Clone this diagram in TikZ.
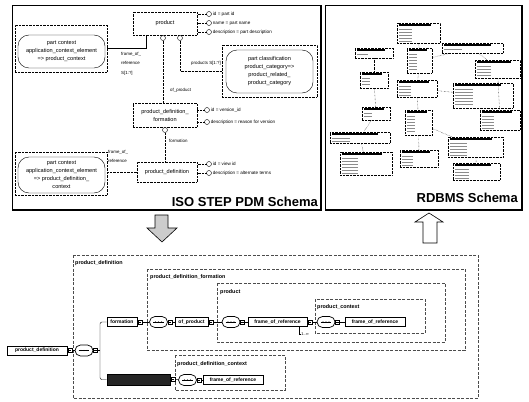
\documentclass[tikz,border=0pt]{standalone}
\usepackage{fontspec}
\setmainfont{Liberation Sans}
\usetikzlibrary{shapes,arrows,positioning,calc,fit}

\tikzset{
  entity/.style={draw,densely dotted,align=center,inner sep=1pt,font=\fontsize{5.6}{8}\selectfont},
  ctxframe/.style={draw,densely dotted},
  ctx/.style={draw,rounded corners=11pt,align=center,inner sep=1pt,font=\fontsize{5.6}{8}\selectfont},
  lolli/.style={circle,draw,fill=white,inner sep=0pt,minimum size=5pt},
  attr/.style={anchor=west,inner sep=1pt,font=\fontsize{4.6}{5}\selectfont},
  role/.style={inner sep=0pt,align=left,font=\fontsize{4.4}{9.5}\selectfont},
  rel/.style={densely dotted},
  panel/.style={line width=0.9pt},
  paneltitle/.style={font=\fontsize{13}{13}\selectfont\bfseries,inner sep=0pt},
  tbl/.style={draw,densely dotted,inner sep=0pt,fill=white},
  grp/.style={draw=black!70,dash pattern=on 3pt off 1.5pt},
  grplabel/.style={anchor=west,inner sep=0pt,font=\fontsize{5.4}{5.4}\selectfont\bfseries},
  elem/.style={draw,line width=1pt,fill=white,minimum height=9pt,inner sep=1pt,font=\fontsize{5}{5}\selectfont\bfseries},
  expd/.style={draw,line width=0.5pt,fill=white,minimum size=4pt,inner sep=0pt,
    path picture={\draw[line width=0.4pt] ($(path picture bounding box.west)+(0.8pt,0)$) -- ($(path picture bounding box.east)+(-0.8pt,0)$);}},
  seqbox/.style={draw,line width=0.7pt,fill=white,rounded rectangle,minimum width=18pt,minimum height=11pt,inner sep=0pt},
}

\newcommand{\seqmark}[1]{%
  \draw[line width=0.5pt] ($(#1.west)+(4,0)$) -- ($(#1.east)+(-4,0)$);
  \foreach \dx in {-3,0,3} \fill ($(#1.center)+(\dx,0)$) circle (0.7pt);}

\begin{document}
\begin{tikzpicture}[x=1pt,y=-1pt]
\useasboundingbox (0,0) rectangle (529,401);

% ISO STEP PDM schema panel
\draw[panel] (12,5) rectangle (321,210);
\draw[line width=1.8pt] (12,210) -- (321,210) -- (321,5);

\node[entity,minimum width=64pt,minimum height=23pt] (prod) at (165,23.5) {product};
\node[entity,minimum width=64pt,minimum height=24pt] (pdf) at (165,115) {product\_definition\_\\formation};
\node[entity,minimum width=60pt,minimum height=20pt] (pd) at (167,172) {product\_definition};

\node[ctxframe,minimum width=92pt,minimum height=47pt] (ctxa) at (61,48.5) {};
\node[ctx,minimum width=87pt,minimum height=33pt] (ctxa in) at (61.5,51.5) {part context\\application\_context\_element\\=> product\_context};
\node[ctxframe,minimum width=92pt,minimum height=43pt] (ctxb) at (61,173.5) {};
\node[ctx,minimum width=87pt,minimum height=36pt] (ctxb in) at (61.5,175) {part context\\application\_context\_element\\=> product\_definition\_\\context};
\node[ctxframe,minimum width=95pt,minimum height=52pt] (ctxc) at (269.5,71) {};
\node[ctx,minimum width=87pt,minimum height=43pt] (ctxc in) at (269.5,71.5) {part classification\\product\_category=>\\product\_related\_\\product\_category};

\draw ($(prod.south west)+(13,0)$) |- (ctxa.east);
\node[role,anchor=north west] at (121,52) {frame\_of\_\\reference\\S[1:?]};

\node[lolli] (c1) at (163,38) {};
\node[lolli] (c2) at (180,38) {};
\draw[rel] (c1) -- (c1 |- pdf.north);
\node[role,anchor=west] at (170,90) {of\_product};
\draw[rel] (c2) |- (ctxc.west);
\node[role,anchor=east] at (221,63) {products S[1:?]};

\node[lolli] (c3) at (165,130) {};
\draw[rel] (c3) -- (c3 |- pd.north);
\node[role,anchor=west] at (169,141) {formation};

\draw[rel] (pd.west) -- (pd.west -| ctxb.east);
\node[role,anchor=north west] at (108,150) {frame\_of\_\\reference};

\foreach \y/\t [count=\i] in {14/id = part id,23/name = part name,32/description = part description} {
  \node[lolli] (pa\i) at (209,\y) {};
  \draw[rel] (pa\i) -- (pa\i -| prod.east);
  \node[attr] at (pa\i.east) {\t};
}
\foreach \y/\t [count=\i] in {110/id = version\_id,122/description = reason for version} {
  \node[lolli] (va\i) at (207,\y) {};
  \draw[rel] (va\i) -- (va\i -| pdf.east);
  \node[attr] at (va\i.east) {\t};
}
\foreach \y/\t [count=\i] in {164/id = view id,173/description = alternate terms} {
  \node[lolli] (da\i) at (209,\y) {};
  \draw[rel] (da\i) -- (da\i -| pd.east);
  \node[attr] at (da\i.east) {\t};
}

\node[paneltitle,anchor=east] (iso) at (318,202) {ISO STEP PDM Schema};

% RDBMS schema panel
\draw[panel] (325,5) rectangle (522,210);
\draw[line width=1.8pt] (325,210) -- (522,210) -- (522,5);

\foreach \a/\b/\c/\d [count=\i] in {397/23/440/43, 442/43/503/53, 355/48/393/58, 407/48/432/73,
    475/60/520/78, 360/72/388/88, 397/80/437/97, 453/83/513/108, 480/110/520/130,
    362/107/390/120, 405/110/432/135, 330/132/390/143, 340/152/392/175, 400/150/438/167,
    448/137/503/157, 453/163/500/180} {
  \node[tbl,minimum width={(\c-\a)*1pt},minimum height={(\d-\b)*1pt}] (t\i) at ({(\a+\c)/2},{(\b+\d)/2}) {};
  \fill ({\a+1.5},{\b+1.4}) rectangle ({\a+(\c-\a)*0.8},{\b+2.6});
  \pgfmathtruncatemacro\nf{max(1,(\d-\b-5)/3)}
  \foreach \k in {1,...,\nf} \draw[black!45,line width=0.3pt] ({\a+2},{\b+3+\k*3}) -- ++({(\c-\a)*0.3},0);
}
\foreach \p/\q in {1/4,4/2,3/6,4/7,7/8,2/5,5/9,8/9,6/10,10/12,12/13,7/11,11/14,11/15,15/16}
  \draw[rel] (t\p) -- (t\q);

\node[paneltitle,anchor=east] (rdb) at (518,197.5) {RDBMS Schema};

% block arrows
\draw[fill=black!20,line width=0.6pt] (155,215) -- (168,215) -- (168,228) -- (177,228) -- (162,242) -- (147,228) -- (155,228) -- cycle;
\draw[fill=white,line width=0.6pt] (423,243) -- (437,243) -- (437,222) -- (443,222) -- (429,213) -- (415,222) -- (423,222) -- cycle;

% XML schema view
\draw[grp] (73,255) rectangle (478,398);
\node[grplabel] at (75,263) {product\_definition};
\draw[grp] (147,269) rectangle (465,350);
\node[grplabel] at (150,277) {product\_definition\_formation};
\draw[grp] (217,283) rectangle (445,342);
\node[grplabel] at (220,292) {product};
\draw[grp] (315,299) rectangle (425,333);
\node[grplabel] at (317,307) {product\_context};
\draw[grp] (175,355) rectangle (285,390);
\node[grplabel] at (177,364) {product\_definition\_context};

\node[elem,minimum width=60pt] (root) at (37,350.5) {product\_definition};
\node[expd,right=0pt of root] (root x) {};
\node[seqbox] (s0) at (84,350.5) {};
\seqmark{s0}
\node[expd,right=0pt of s0] (s0 x) {};
\coordinate (br) at (100,350.5);
\draw (root x) -- (s0);
\draw (s0 x) -- (br);

\node[elem,minimum width=30pt] (form) at (122,322) {formation};
\node[elem,fill=black!85,minimum width=63pt,minimum height=11pt] (ctxel) at (138.5,379.5) {};
\draw[rounded corners=2pt] (form.west) -| (br) |- (ctxel.west);

\node[expd,right=0pt of form] (form x) {};
\node[seqbox] (s1) at (158.5,322) {};
\seqmark{s1}
\node[expd,right=0pt of s1] (s1 x) {};
\node[elem,minimum width=33pt] (ofp) at (191.5,322) {of\_product};
\node[expd,right=0pt of ofp] (ofp x) {};
\node[seqbox] (s2) at (231,322) {};
\seqmark{s2}
\node[expd,right=0pt of s2] (s2 x) {};
\node[elem,minimum width=59pt] (for1) at (277.5,322) {frame\_of\_reference};
\node[expd,right=0pt of for1] (for1 x) {};
\node[seqbox] (s3) at (326,322) {};
\seqmark{s3}
\node[expd,right=0pt of s3] (s3 x) {};
\node[elem,minimum width=60pt] (for2) at (375,322) {frame\_of\_reference};
\draw (form x) -- (s1);
\draw (s1 x) -- (ofp);
\draw (ofp x) -- (s2);
\draw (s2 x) -- (for1);
\draw (for1 x) -- (s3);
\draw (s3 x) -- (for2);
\node[inner sep=0pt,font=\fontsize{4}{4}\selectfont] (mult) at (305,334) {1..∞};
\draw[line width=0.4pt] ($(for1.south east)+(-8,0)$) |- (mult.west);

\node[expd,right=0pt of ctxel] (ctxel x) {};
\node[seqbox] (s4) at (187.5,380) {};
\seqmark{s4}
\node[expd,right=0pt of s4] (s4 x) {};
\node[elem,minimum width=60pt] (for3) at (233,380) {frame\_of\_reference};
\draw (ctxel x) -- (s4);
\draw (s4 x) -- (for3);
\end{tikzpicture}
\end{document}
